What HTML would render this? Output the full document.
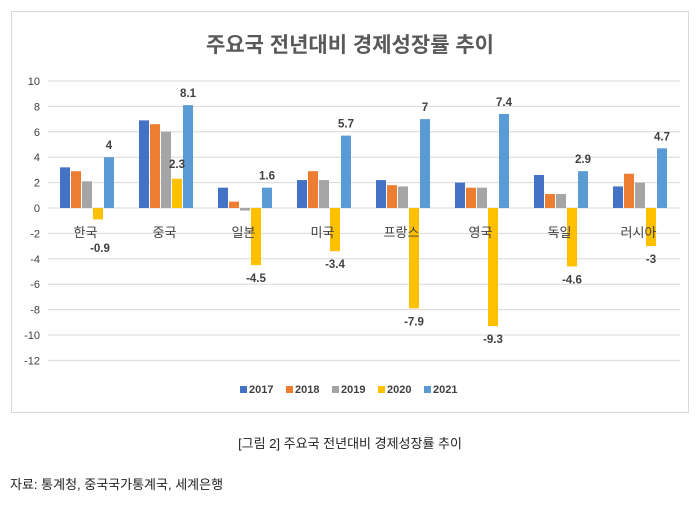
<!DOCTYPE html><html><head><meta charset="utf-8"><style>
body{margin:0;background:#fff;width:700px;height:508px;overflow:hidden;font-family:"Liberation Sans","Noto Sans CJK KR",sans-serif;}
</style></head><body>
<svg width="700" height="508" xmlns="http://www.w3.org/2000/svg" font-family="Liberation Sans, Noto Sans CJK KR, sans-serif">
<rect x="11.5" y="11.5" width="677" height="401" fill="#fff" stroke="#d9d9d9"/>
<text x="350" y="52" text-anchor="middle" font-size="21" font-weight="bold" fill="#595959">주요국 전년대비 경제성장률 추이</text>
<g id="g"></g>
<text x="350" y="448" text-anchor="middle" font-size="13" fill="#222">[그림 2]  주요국  전년대비  경제성장률  추이</text>
<text x="10" y="489" font-size="13" fill="#222">자료: 통계청, 중국국가통계국, 세계은행</text>
</svg>
<script>
const g=document.getElementById('g');const ns='http://www.w3.org/2000/svg';
function el(t,a,txt){const e=document.createElementNS(ns,t);for(const k in a)e.setAttribute(k,a[k]);if(txt!==undefined)e.textContent=txt;g.appendChild(e);return e;}
const y0=208,s=12.7,x0=48,cw=79;
for(let v=10;v>=-12;v-=2){const y=y0-v*s;el('line',{x1:x0,x2:680,y1:y,y2:y,stroke:'#d9d9d9'});el('text',{x:40,y:y+4,'text-anchor':'end','font-size':11,fill:'#404040'},v);}
const cols=['#4472c4','#ed7d31','#a5a5a5','#ffc000','#5b9bd5'];
const cats=['한국','중국','일본','미국','프랑스','영국','독일','러시아'];
const d=[[3.2,2.9,2.1,-0.9,4],[6.9,6.6,6,2.3,8.1],[1.6,0.5,-0.2,-4.5,1.6],[2.2,2.9,2.2,-3.4,5.7],[2.2,1.8,1.7,-7.9,7],[2.0,1.6,1.6,-9.3,7.4],[2.6,1.1,1.1,-4.6,2.9],[1.7,2.7,2.0,-3,4.7]];
d.forEach((r,i)=>{const c=x0+cw*i+cw/2;const bx=c-27.5;
r.forEach((v,j)=>{const x=bx+j*11;const h=Math.abs(v)*s;el('rect',{x:x,y:v>=0?y0-h:y0,width:10,height:h,fill:cols[j]});});
el('text',{x:c-2,y:y0+29,'text-anchor':'middle','font-size':13,fill:'#404040'},cats[i]);
const v4=r[4];el('text',{x:bx+4*11+5,y:y0-v4*s-8,'text-anchor':'middle','font-size':11.5,'font-weight':'bold',fill:'#404040'},v4);
const v3=r[3];const lx=bx+3*11+5;
if(v3<0){const ly=i==0?252:y0-v3*s+17;el('text',{x:i==0?lx+2:lx,y:ly,'text-anchor':'middle','font-size':11.5,'font-weight':'bold',fill:'#404040'},v3);}
else el('text',{x:lx,y:y0-v3*s-11,'text-anchor':'middle','font-size':11.5,'font-weight':'bold',fill:'#404040'},v3);
});
const yrs=['2017','2018','2019','2020','2021'];let lx=240;
yrs.forEach((t,j)=>{el('rect',{x:lx,y:386,width:7,height:7,fill:cols[j]});el('text',{x:lx+9,y:393,'font-size':11,'font-weight':'bold',fill:'#404040'},t);lx+=46;});
</script>
</body></html>
